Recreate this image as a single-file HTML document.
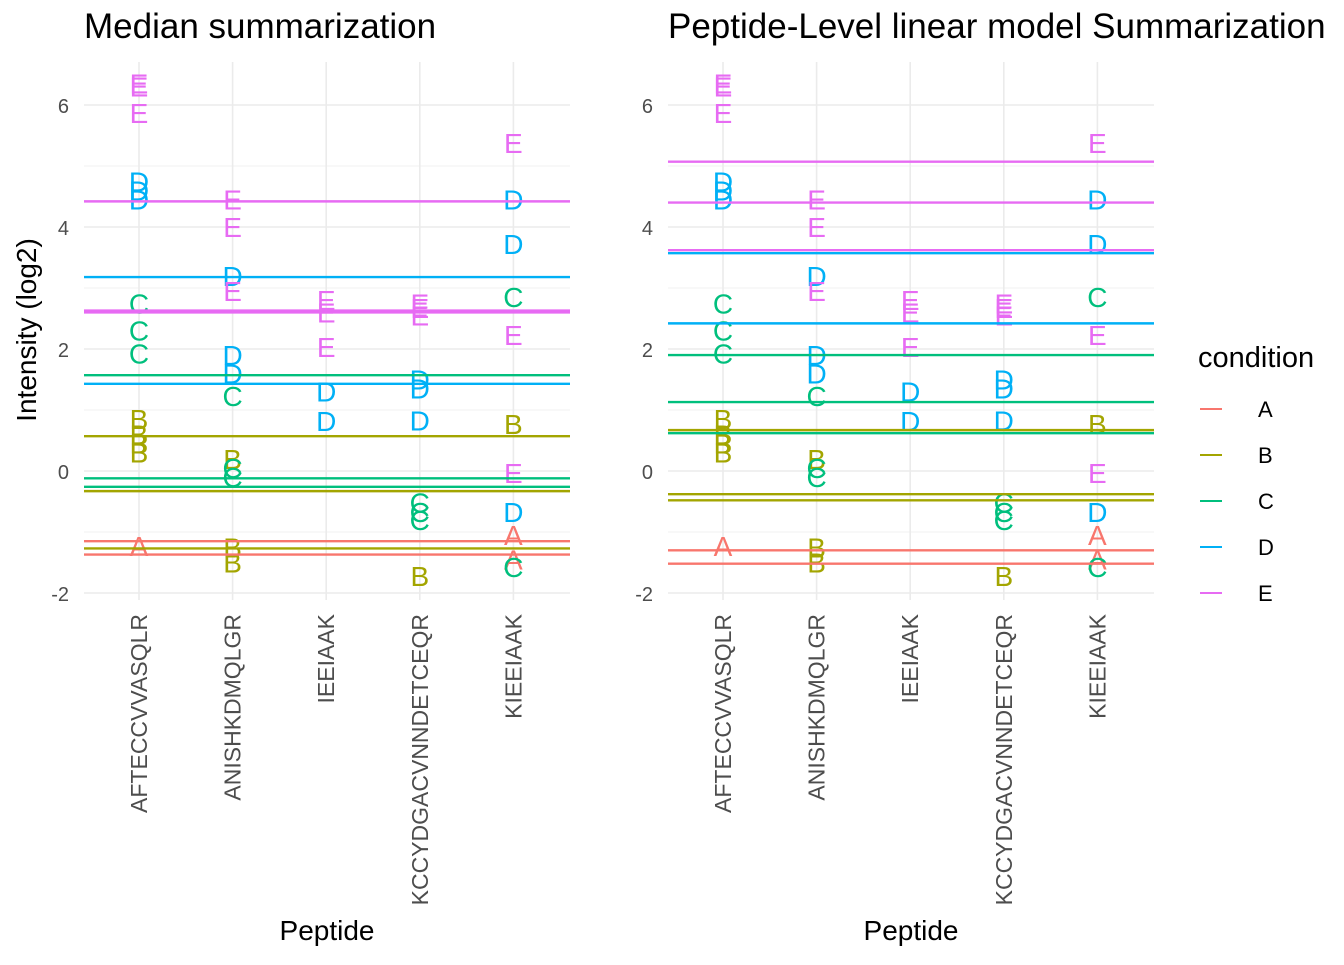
<!DOCTYPE html>
<html><head><meta charset="utf-8"><style>
body{margin:0;background:#fff}
svg text{font-family:"Liberation Sans",sans-serif}
</style></head><body>
<svg id="chart" width="1344" height="960" xmlns="http://www.w3.org/2000/svg"></svg>
<script>
const categories=["AFTECCVVASQLR","ANISHKDMQLGR","IEEIAAK","KCCYDGACVNNDETCEQR","KIEEIAAK"];
const conditions=["A","B","C","D","E"];
const colors={A:"#F8766D",B:"#A3A500",C:"#00BF7D",D:"#00B0F6",E:"#E76BF3"};
const yTicks=[-2,0,2,4,6];
// points: [category index, condition, value]
const ptCat=[0,0,0,0,0,0,0,0,0,0,0,0,0,0, 1,1,1,1,1,1,1,1,1,1,1,1, 2,2,2,2,2, 3,3,3,3,3,3,3,3,3,3, 4,4,4,4,4,4,4,4,4,4,4];
const ptCond=["E","E","E","D","D","D","C","C","C","B","B","B","B","A", "E","E","D","E","D","D","C","B","C","C","B","B", "E","E","E","D","D", "E","E","E","D","D","D","C","C","C","B", "E","D","D","C","E","B","E","D","A","A","C"];
const ptVal=[6.3,6.35,5.87,4.75,4.6,4.45,2.75,2.3,1.93,0.85,0.6,0.45,0.3,-1.23, 4.45,4.0,3.2,2.95,1.9,1.6,1.23,0.2,0.05,-0.1,-1.25,-1.5, 2.8,2.6,2.03,1.3,0.82, 2.75,2.67,2.55,1.5,1.35,0.83,-0.52,-0.67,-0.8,-1.72, 5.38,4.45,3.72,2.85,2.23,0.77,-0.03,-0.67,-1.05,-1.45,-1.57];
// summary lines
const medCond=["E","D","E","E","C","D","B","C","C","B","A","B","A"];
const medVal=[4.42,3.18,2.63,2.6,1.57,1.43,0.57,-0.12,-0.26,-0.33,-1.15,-1.27,-1.37];
const lmCond=["E","E","E","D","D","C","C","B","C","B","B","A","A"];
const lmVal=[5.07,4.4,3.62,3.57,2.42,1.9,1.13,0.67,0.62,-0.38,-0.48,-1.3,-1.52];

const NS="http://www.w3.org/2000/svg";
const svg=document.getElementById('chart');
function mk(tag,attrs,parent,text){const e=document.createElementNS(NS,tag);for(const k in attrs)e.setAttribute(k,attrs[k]);if(text!==undefined)e.textContent=text;(parent||svg).appendChild(e);return e;}
const yScale=v=>471-61*v;
const panels=[{x0:84,x1:570,title:"Median summarization",lc:medCond,lv:medVal,name:"median"},
              {x0:668,x1:1154,title:"Peptide-Level linear model Summarization",lc:lmCond,lv:lmVal,name:"linear-model"}];
panels.forEach(p=>{
  const xScale=i=>p.x0+55+i*93.6;
  const g=mk('g',{});
  
  
  for(let v=-1;v<=5;v+=2){const l=mk('line',{x1:p.x0,x2:p.x1,y1:yScale(v),y2:yScale(v),stroke:'#ebebeb','stroke-width':0.8},g);
    }
  yTicks.forEach(v=>{const l=mk('line',{x1:p.x0,x2:p.x1,y1:yScale(v),y2:yScale(v),stroke:'#ebebeb','stroke-width':1.6},g);
    
    const t=mk('text',{x:p.x0-15,y:yScale(v)+8,'text-anchor':'end','font-size':20,fill:'#4d4d4d'},g,String(v));
    });
  categories.forEach((c,i)=>{const x=xScale(i);
    const l=mk('line',{x1:x,x2:x,y1:62,y2:600,stroke:'#ebebeb','stroke-width':1.6},g);
    
    const t=mk('text',{transform:`translate(${x+8},${614}) rotate(-90)`,'text-anchor':'end','font-size':23,fill:'#4d4d4d'},g,c);
    });
  ptVal.forEach((v,k)=>{const t=mk('text',{x:xScale(ptCat[k]),y:yScale(v)+10,'text-anchor':'middle','font-size':28,fill:colors[ptCond[k]]},g,ptCond[k]);
    });
  p.lv.forEach((v,k)=>{const l=mk('line',{x1:p.x0,x2:p.x1,y1:yScale(v),y2:yScale(v),stroke:colors[p.lc[k]],'stroke-width':2.4},g);
    });
  const tt=mk('text',{x:p.x0,y:38,'font-size':35,fill:'#000'},g,p.title);
  
  const xt=mk('text',{x:(p.x0+p.x1)/2,y:940,'text-anchor':'middle','font-size':28,fill:'#000'},g,'Peptide');
  
});
const yt=mk('text',{transform:'translate(36,330) rotate(-90)','text-anchor':'middle','font-size':28,fill:'#000'},svg,'Intensity (log2)');

const lg=mk('g',{});

const lt=mk('text',{x:1198,y:367,'font-size':29,fill:'#000'},lg,'condition');

conditions.forEach((c,i)=>{const y=409+i*46;
  const l=mk('line',{x1:1200,x2:1222,y1:y,y2:y,stroke:colors[c],'stroke-width':2},lg);
  
  const t=mk('text',{x:1258,y:y+8,'font-size':22,fill:'#000'},lg,c);
  });
</script>
</body></html>
